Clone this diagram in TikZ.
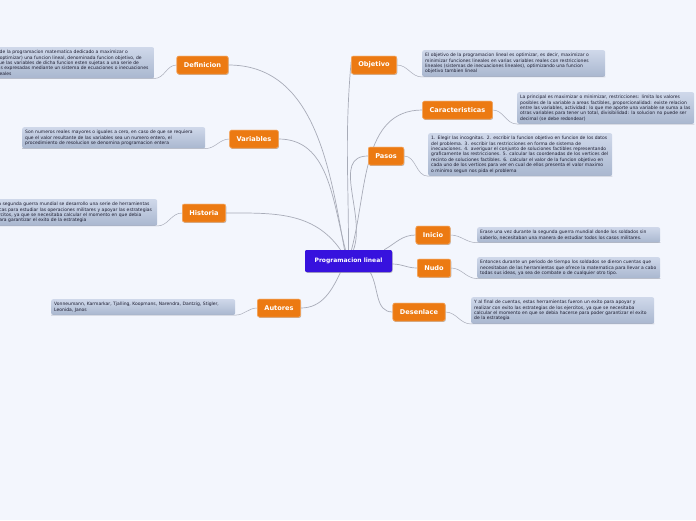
\documentclass[tikz,border=0pt]{standalone}
\usepackage{fontspec}
\setmainfont{DejaVu Sans}
\usetikzlibrary{shadows}
\definecolor{bg}{HTML}{F3F6FD}
\definecolor{orn}{HTML}{EC7A12}
\definecolor{ctr}{HTML}{3712DE}
\definecolor{boxtop}{HTML}{CFD8EA}
\definecolor{boxbot}{HTML}{A9B7CF}
\definecolor{conn}{HTML}{A8ACB8}
\definecolor{txt}{HTML}{1C1C30}
\begin{document}
\begin{tikzpicture}[x=1pt,y=-1pt,
  branch/.style={rectangle, rounded corners=2pt, fill=orn, draw=orn!60!white, line width=0.5pt,
    text=white, font=\fontsize{6.6}{7.5}\selectfont\bfseries, minimum height=18pt,
    inner xsep=7pt, inner ysep=0pt,
    drop shadow={shadow xshift=0.6pt, shadow yshift=-0.8pt, opacity=0.3}},
  central/.style={rectangle, rounded corners=2pt, fill=ctr, text=white,
    font=\fontsize{6}{7}\selectfont\bfseries, minimum height=22pt, minimum width=87pt,
    inner xsep=8pt, inner ysep=0pt,
    drop shadow={shadow xshift=0.6pt, shadow yshift=-0.8pt, opacity=0.3}},
  tbox/.style={rectangle, rounded corners=2pt, top color=boxtop, bottom color=boxbot,
    text=txt, font=\fontsize{4.5}{5.4}\selectfont, align=left, anchor=north west,
    inner sep=3pt},
  conn/.style={draw=conn, line width=0.7pt},
  sub/.style={draw=conn, line width=0.5pt}
]
\useasboundingbox (0,0) rectangle (696,520);
\fill[bg] (0,0) rectangle (696,520);
\clip (0,0) rectangle (696,520);

% central node
\node[central] (ctrn) at (348.5,261) {Programacion lineal};

% branch nodes
\node[branch] (def) at (202.5,65) {Definicion};
\node[branch] (var) at (254,139) {Variables};
\node[branch] (his) at (204,213) {Historia};
\node[branch] (aut) at (279,308) {Autores};
\node[branch] (obj) at (374,65) {Objetivo};
\node[branch] (car) at (457.5,110) {Caracteristicas};
\node[branch] (pas) at (386,156) {Pasos};
\node[branch] (ini) at (433,235) {Inicio};
\node[branch] (nud) at (434,268) {Nudo};
\node[branch] (des) at (419,312) {Desenlace};

% text boxes
\node[tbox, text width=177pt] (defb) at (-29,47) {Es la rama de la programacion matematica dedicado a maximizar o\\
minimizar (optimizar) una funcion lineal, denominada funcion objetivo, de\\
tal forma que las variables de dicha funcion esten sujetas a una serie de\\
restricciones expresadas mediante un sistema de ecuaciones o inecuaciones\\
tambien lineales};
\node[tbox, text width=177pt] (varb) at (22,127) {Son numeros reales mayores o iguales a cero, en caso de que se requiera\\
que el valor resultante de las variables sea un numero entero, el\\
procedimiento de resolucion se denomina programacion entera};
\node[tbox, text width=177pt] (hisb) at (-26,199) {Durante la segunda guerra mundial se desarrollo una serie de herramientas\\
matematicas para estudiar las operaciones militares y apoyar las estrategias\\
de los ejercitos, ya que se necesitaba calcular el momento en que debia\\
hacerse para garantizar el exito de la estrategia};
\node[tbox, text width=178pt] (autb) at (51,299) {Vonneumann, Karmarkar, Tjalling, Koopmans, Narendra, Dantzig, Stigler,\\
Leonida, Janos};
\node[tbox, text width=177pt] (objb) at (422,50) {El objetivo de la programacion lineal es optimizar, es decir, maximizar o\\
minimizar funciones lineales en varias variables reales con restricciones\\
lineales (sistemas de inecuaciones lineales), optimizando una funcion\\
objetivo tambien lineal};
\node[tbox, text width=171pt] (carb) at (517,92) {La principal es maximizar o minimizar, restricciones: limita los valores\\
posibles de la variable a areas factibles, proporcionalidad: existe relacion\\
entre las variables, actividad: lo que me aporte una variable se suma a las\\
otras variables para tener un total, divisibilidad: la solucion no puede ser\\
decimal (se debe redondear)};
\node[tbox, text width=178pt] (pasb) at (428,133) {1. Elegir las incognitas. 2. escribir la funcion objetivo en funcion de los datos\\
del problema. 3. escribir las restricciones en forma de sistema de\\
inecuaciones. 4. averiguar el conjunto de soluciones factibles representando\\
graficamente las restricciones. 5. calcular las coordenadas de los vertices del\\
recinto de soluciones factibles. 6. calcular el valor de la funcion objetivo en\\
cada uno de los vertices para ver en cual de ellos presenta el valor maximo\\
o minimo segun nos pida el problema};
\node[tbox, text width=177pt] (inib) at (477,227) {Erase una vez durante la segunda guerra mundial donde los soldados sin\\
saberlo, necesitaban una manera de estudiar todos los casos militares.};
\node[tbox, text width=177pt] (nudb) at (477,257) {Entonces durante un periodo de tiempo los soldados se dieron cuentas que\\
\mbox{necesitaban de las herramientas que ofrece la matematica para llevar a cabo}\\
todas sus ideas, ya sea de combate o de cualquier otro tipo.};
\node[tbox, text width=177pt] (desb) at (471,297) {Y al final de cuentas, estas herramientas fueron un exito para apoyar y\\
realizar con exito las estrategias de los ejercitos, ya que se necesitaba\\
calcular el momento en que se debia hacerse para poder garantizar el exito\\
de la estrategia};

% sub connectors (node to text box)
\draw[sub] (def.west) to[out=180,in=0] (defb.south east) -- (defb.south west);
\draw[sub] (var.west) to[out=180,in=0] (varb.south east) -- (varb.south west);
\draw[sub] (his.west) to[out=180,in=0] (hisb.south east) -- (hisb.south west);
\draw[sub] (aut.west) to[out=180,in=0] (autb.south east) -- (autb.south west);
\draw[sub] (obj.east) to[out=0,in=180] (objb.south west) -- (objb.south east);
\draw[sub] (car.east) to[out=0,in=180] (carb.south west) -- (carb.south east);
\draw[sub] (pas.east) to[out=0,in=180] (pasb.south west) -- (pasb.south east);
\draw[sub] (ini.east) to[out=0,in=180] (inib.south west) -- (inib.south east);
\draw[sub] (nud.east) to[out=0,in=180] (nudb.south west) -- (nudb.south east);
\draw[sub] (des.east) to[out=0,in=180] (desb.south west) -- (desb.south east);

% main connectors
\draw[conn] (def.east) to[out=0,in=100] ([xshift=-4pt]ctrn.north);
\draw[conn] (var.east) to[out=0,in=105] ([xshift=-3pt]ctrn.north);
\draw[conn] (his.east) to[out=0,in=125] ([xshift=-8pt]ctrn.north);
\draw[conn] (aut.east) to[out=0,in=-115] ([xshift=-8pt]ctrn.south);
\draw[conn] ([yshift=3pt]obj.west) to[out=-95,in=90] ([xshift=0pt]ctrn.north);
\draw[conn] (car.west) to[out=180,in=75] ([xshift=3pt]ctrn.north);
\draw[conn] (pas.west) to[out=180,in=70] ([xshift=5pt]ctrn.north);
\draw[conn] (ini.west) to[out=180,in=30] ([xshift=-8pt]ctrn.north east);
\draw[conn] (nud.west) to[out=180,in=0] ([yshift=-3pt]ctrn.east);
\draw[conn] (des.west) to[out=180,in=-60] ([xshift=-22pt]ctrn.south east);

% redraw nodes on top of connectors
\node[central] at (ctrn) {Programacion lineal};
\node[branch] at (def) {Definicion};
\node[branch] at (var) {Variables};
\node[branch] at (his) {Historia};
\node[branch] at (aut) {Autores};
\node[branch] at (obj) {Objetivo};
\node[branch] at (car) {Caracteristicas};
\node[branch] at (pas) {Pasos};
\node[branch] at (ini) {Inicio};
\node[branch] at (nud) {Nudo};
\node[branch] at (des) {Desenlace};
\end{tikzpicture}
\end{document}
